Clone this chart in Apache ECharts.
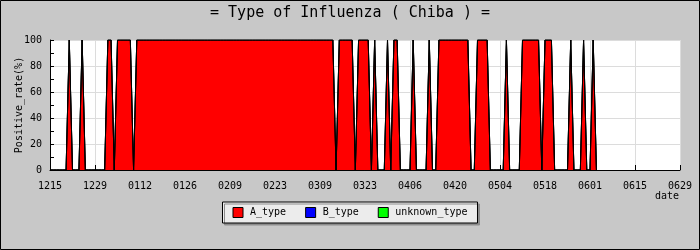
<!DOCTYPE html>
<html>
<head>
<meta charset="utf-8">
<script src="https://cdn.jsdelivr.net/npm/echarts@6/dist/echarts.min.js"></script>
<style>html,body{margin:0;padding:0;background:#c8c8c8}#c{width:700px;height:250px}</style>
</head>
<body>
<div id="c"></div>
<script>
// Month segments used to list the daily categories (month, first day, last day)
var monthSpans = [[12,15,31],[1,1,31],[2,1,28],[3,1,31],[4,1,30],[5,1,31],[6,1,29]];
var tickLabels = ['1215','1229','0112','0126','0209','0223','0309','0323','0406','0420','0504','0518','0601','0615','0629'];
var seriesNames = ['A_type','B_type','unknown_type'];

// Daily positive rate (%) from 1215 onward
var aValues = [
0,0,0,0,0,0,
100,
0,0,0,
100,
0,0,0,0,0,0,0,
100,100,
0,
100,100,100,100,100,
0,
100,100,100,100,100,100,100,100,100,100,
100,100,100,100,100,100,100,100,100,100,
100,100,100,100,100,100,100,100,100,100,
100,100,100,100,100,100,100,100,100,100,
100,100,100,100,100,100,100,100,100,100,
100,100,100,100,100,100,100,100,100,100,
100,100,
0,
100,100,100,100,100,
0,
100,100,100,100,
0,
100,
0,0,0,
100,
0,
100,100,
0,0,0,0,
100,
0,0,0,0,
100,
0,0,
100,100,100,100,100,100,100,100,100,100,
0,0,
100,100,100,100,
0,0,0,0,0,
100,
0,0,0,0,
100,100,100,100,100,100,
0,
100,100,100,
0,0,0,0,0,
100,
0,0,0,
100,
0,0,
100,
0
];
var bValues = [
0,0,0,0,0,0,0,0,0,0,0,0,0,0,0,0,0,0,0,0,
0,0,0,0,0,0,0,0,0,0,0,0,0,0,0,0,0,0,0,0,
0,0,0,0,0,0,0,0,0,0,0,0,0,0,0,0,0,0,0,0,
0,0,0,0,0,0,0,0,0,0,0,0,0,0,0,0,0,0,0,0,
0,0,0,0,0,0,0,0,0,0,0,0,0,0,0,0,0,0,0,0,
0,0,0,0,0,0,0,0,0,0,0,0,0,0,0,0,0,0,0,0,
0,0,0,0,0,0,0,0,0,0,0,0,0,0,0,0,0,0,0,0,
0,0,0,0,0,0,0,0,0,0,0,0,0,0,0,0,0,0,0,0,
0,0,0,0,0,0,0,0,0,0,0
];
var unknownValues = [
0,0,0,0,0,0,0,0,0,0,0,0,0,0,0,0,0,0,0,0,
0,0,0,0,0,0,0,0,0,0,0,0,0,0,0,0,0,0,0,0,
0,0,0,0,0,0,0,0,0,0,0,0,0,0,0,0,0,0,0,0,
0,0,0,0,0,0,0,0,0,0,0,0,0,0,0,0,0,0,0,0,
0,0,0,0,0,0,0,0,0,0,0,0,0,0,0,0,0,0,0,0,
0,0,0,0,0,0,0,0,0,0,0,0,0,0,0,0,0,0,0,0,
0,0,0,0,0,0,0,0,0,0,0,0,0,0,0,0,0,0,0,0,
0,0,0,0,0,0,0,0,0,0,0,0,0,0,0,0,0,0,0,0,
0,0,0,0,0,0,0,0,0,0,0
];

function pad(n){return (n<10?'0':'')+n;}
var days = [];
monthSpans.forEach(function(m){
  for (var d = m[1]; d <= m[2]; d++) days.push(pad(m[0]) + pad(d));
});

var FONT = '"DejaVu Sans Mono", monospace';
var colors = ['#ff0000','#0000ff','#00ff00'];
var valueSets = [aValues, bValues, unknownValues];

var chart = echarts.init(document.getElementById('c'), null, {renderer:'canvas'});
chart.setOption({
  animation: false,
  backgroundColor: '#c8c8c8',
  title: {
    text: '= Type of Influenza ( Chiba ) =',
    left: 'center', top: 6, padding: 0,
    textStyle: {fontFamily: FONT, fontSize: 15, fontWeight: 'normal', color: '#000'}
  },
  grid: {left: 50, right: 20, top: 40, bottom: 80, show: true, backgroundColor: '#fff', borderWidth: 0,
    containLabel: false, outerBoundsMode: 'none'},
  legend: {
    data: seriesNames,
    left: 'center', top: 202,
    icon: 'rect', itemWidth: 10, itemHeight: 10, itemGap: 19,
    padding: [5, 10, 5, 10],
    backgroundColor: '#ececec', borderColor: '#000', borderWidth: 1,
    shadowColor: '#8c8c8c', shadowOffsetX: 2, shadowOffsetY: 2, shadowBlur: 0,
    itemStyle: {borderColor: '#000', borderWidth: 1},
    textStyle: {fontFamily: FONT, fontSize: 10, color: '#000', padding: [0,0,0,2]}
  },
  xAxis: {
    type: 'category', data: days, boundaryGap: false,
    axisLine: {lineStyle: {color: '#000', width: 1}},
    axisTick: {show: true, inside: true, length: 5, interval: 13, lineStyle: {color: '#000'}},
    axisLabel: {interval: 13, margin: 11, fontFamily: FONT, fontSize: 10, color: '#000',
      formatter: function(v){ return tickLabels.indexOf(v) >= 0 ? v : ''; }},
    splitLine: {show: true, interval: 13, lineStyle: {color: '#dcdcdc', width: 1}}
  },
  yAxis: {
    type: 'value', min: 0, max: 100, interval: 20,
    name: 'Positive_rate(%)', nameLocation: 'middle', nameRotate: 90, nameGap: 26,
    nameMoveOverlap: false,
    nameTextStyle: {fontFamily: FONT, fontSize: 10, color: '#000'},
    axisLine: {show: true, lineStyle: {color: '#000', width: 1}},
    axisTick: {show: true, inside: true, length: 4, lineStyle: {color: '#000'}},
    minorTick: {show: true, splitNumber: 2, length: 4, lineStyle: {color: '#000'}},
    axisLabel: {margin: 8, fontFamily: FONT, fontSize: 10, color: '#000'},
    splitLine: {show: true, lineStyle: {color: '#dcdcdc', width: 1}}
  },
  graphic: [
    {type: 'text', right: 21, top: 191, style: {text: 'date', font: '10px ' + FONT, fill: '#000'}},
    {type: 'rect', shape: {x: 0.5, y: 0.5, width: 699, height: 249}, z: 100,
      style: {fill: null, stroke: '#000', lineWidth: 1}, silent: true}
  ],
  series: seriesNames.map(function(n, k){
    return {
      name: n, type: 'line', stack: 'total', data: valueSets[k],
      showSymbol: false, symbol: 'none',
      color: colors[k],
      itemStyle: {color: colors[k]},
      lineStyle: {color: '#000', width: 1},
      areaStyle: {color: colors[k], opacity: 1}
    };
  })
});
</script>
</body>
</html>
